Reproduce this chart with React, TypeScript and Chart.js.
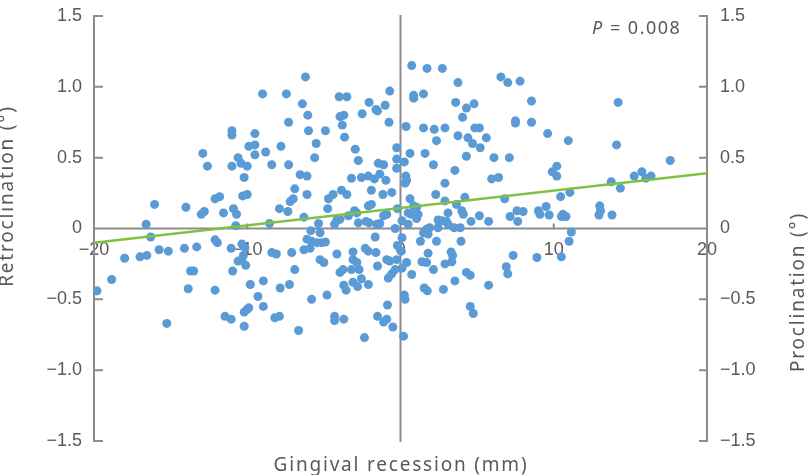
import React, { useEffect, useRef } from "react";
import { Chart, registerables } from "chart.js";

Chart.register(...registerables);

// Gingival recession (mm) of each subject (x)
const recessionMm = [
  -11.0, -11.0, -12.9, -10.6, -12.6, -11.0, -10.4,
  -6.2, -9.0, -7.45, -4.0, -3.5, -0.7, -6.4, -2.05, -1.6, -1.5, -1.0, -6.05, -3.95, -3.7, -2.5, -7.3, -0.75, -3.8, -6.0, -4.9, -9.5, -3.65, -5.5, -9.9, -9.5, -7.8, -0.25, -2.95, -8.8, -9.5, -5.6, -2.75, -8.4, -7.3, -1.45, -1.1, -0.25, -10.0,
  0.73, 1.73, 2.73, 6.55, 7.0, 7.8, 3.75, 0.86, 0.86, 1.5, 3.6, 4.8, 4.3, 8.55, 4.05, 7.5, 7.5, 8.55, 0.36, 1.5, 2.2, 2.9, 4.85, 5.15, 9.6, 3.75, 4.4, 2.35, 4.7, 5.6, 5.2, 0.62, 1.6, 4.3, 6.1, 7.1, 0.25, 2.15,
  14.2, 10.95, 14.1, 17.6, 10.2,
  -10.2, -12.1, -11.8, -10.3, -16.05, -14.0, -13.0, -12.8, -11.55, -10.9, -10.7, -16.6, -10.75, -16.3, -12.1, -11.95, -10.35, -18.0, -17.0, -16.55, -15.75, -15.15, -14.1, -13.3, -11.05, -10.6, -10.35,
  -10.0, -6.55, -6.1, -6.9, -6.1, -7.2, -7.0, -7.9, -7.35, -8.55, -6.3, -5.35, -4.75, -4.7, -4.4, -3.85, -3.5, -3.2, -2.55, -2.1, -1.7, -1.35, -0.95, -0.25, -1.9, -1.15, -0.57, -2.1, -1.9, -3.0, -2.85, -3.4, -3.95, -4.15, -4.3, -2.75, -2.25, -2.05, -1.55, -1.35, -0.9, -1.1, -0.2, -0.35, -5.85, -5.25, -6.1, -5.8, -5.45, -5.15, -4.9, -5.9, -6.3, -10.15, -10.25, -8.4, -8.1, -7.1, -4.15, -3.1, -2.3, -2.1, -1.65, -1.6, -0.9, -0.7, -0.25, -0.2, -5.25, -3.1, -2.85,
  3.55, 0.35, 0.4, 0.3, 2.9, 5.95, 6.4, 2.3, 0.62, 4.2, 2.9, 3.65, 6.8, 0.85, 1.05, 0.5, 0.7, 1.15, 3.1, 4.0, 4.1, 5.15, 4.6, 5.75, 7.15, 7.6, 8.0, 7.65, 9.0, 9.1, 9.5, 9.7, 1.05, 0.1, 2.45, 2.7, 3.0, 3.1, 1.9, 1.7, 1.5, 1.8, 2.45, 3.5, 3.9, 0.1, 1.3, 2.35, 3.95, 0.5, 1.8, 3.3, 3.4, 7.35, 8.9, 0.05, 1.4, 1.7, 0.4, 2.9, 3.35,
  10.2, 9.9, 13.75, 14.35, 15.25, 15.75, 16.0, 16.35, 11.05, 10.45, 13.0, 13.05, 12.95, 13.8, 10.6, 10.8, 10.5, 11.15, 11.0, 10.5,
  -19.8, -18.85, -13.7, -13.5, -13.85, -12.1, -15.25, -11.45, -11.05, -10.95, -10.2, -10.2,
  -10.1, -6.9, -9.8, -8.95, -7.85, -7.25, -9.3, -8.95, -10.0, -9.9, -8.2, -7.9, -6.65, -5.8, -4.8, -5.0, -3.95, -3.75, -3.2, -2.7, -3.7, -3.55, -3.1, -2.8, -2.55, -2.1, -4.3, -4.3, -3.7, -2.35, -1.5, -0.8, -0.57, -0.35, -0.85, -1.5, -1.1, -0.9, -0.5,
  0.1, 0.73, 2.15, 1.55, 1.75, 2.8, 3.55, 4.3, 4.55, 5.75, 6.9, 7.0, 0.25, 0.3, 4.55, 4.75, 0.2,
];

// Incisor inclination change (°) of each subject (y)
const inclinationDeg = [
  0.69, 0.66, 0.53, 0.50, 0.44, 0.44, 0.46,
  1.07, 0.95, 0.95, 0.93, 0.93, 0.97, 0.88, 0.89, 0.84, 0.83, 0.87, 0.80, 0.79, 0.80, 0.81, 0.75, 0.75, 0.73, 0.69, 0.69, 0.67, 0.645, 0.60, 0.58, 0.59, 0.58, 0.57, 0.56, 0.54, 0.52, 0.50, 0.48, 0.45, 0.45, 0.46, 0.45, 0.49, 0.44,
  1.15, 1.13, 1.13, 1.07, 1.03, 1.04, 1.03, 0.94, 0.92, 0.95, 0.89, 0.88, 0.85, 0.90, 0.785, 0.76, 0.745, 0.75, 0.72, 0.71, 0.70, 0.71, 0.71, 0.71, 0.67, 0.655, 0.64, 0.62, 0.60, 0.64, 0.57, 0.53, 0.53, 0.51, 0.50, 0.50, 0.47, 0.45,
  0.89, 0.62, 0.59, 0.48, 0.44,
  0.36, 0.21, 0.225, 0.23, 0.17, 0.15, 0.10, 0.12, 0.11, 0.14, 0.10, 0.03, 0.02, -0.06, -0.08, -0.10, -0.11, -0.21, -0.20, -0.19, -0.15, -0.16, -0.14, -0.13, -0.14, -0.23, -0.22,
  0.24, 0.38, 0.37, 0.28, 0.24, 0.19, 0.21, 0.14, 0.12, 0.035, 0.08, 0.035, 0.14, 0.21, 0.24, 0.27, 0.24, 0.355, 0.36, 0.37, 0.35, 0.385, 0.34, 0.425, 0.27, 0.24, 0.255, 0.16, 0.17, 0.125, 0.11, 0.09, 0.065, 0.06, 0.03, 0.04, 0.05, 0.04, 0.03, 0.035, 0.10, 0.09, 0.14, 0.0, -0.015, -0.03, -0.075, -0.09, -0.10, -0.10, -0.095, -0.14, -0.15, -0.135, -0.19, -0.17, -0.18, -0.17, -0.18, -0.165, -0.14, -0.16, -0.06, -0.17, -0.22, -0.23, -0.22, -0.12, -0.22, -0.22, -0.24,
  0.41, 0.37, 0.34, 0.32, 0.32, 0.35, 0.36, 0.24, 0.21, 0.22, 0.195, 0.17, 0.21, 0.16, 0.15, 0.11, 0.10, 0.10, 0.11, 0.125, 0.10, 0.09, 0.05, 0.05, 0.085, 0.125, 0.12, 0.05, 0.125, 0.10, 0.155, 0.095, 0.07, 0.055, 0.06, 0.055, 0.05, 0.03, 0.005, -0.005, -0.03, -0.04, 0.005, 0.005, 0.005, -0.065, -0.09, -0.09, -0.09, 0.03, -0.175, -0.165, -0.19, -0.19, -0.205, -0.16, -0.235, -0.24, -0.24, -0.25, -0.235,
  0.37, 0.40, 0.33, 0.285, 0.37, 0.40, 0.355, 0.37, 0.255, 0.225, 0.16, 0.125, 0.095, 0.095, 0.10, 0.085, 0.085, -0.025, -0.09, -0.20,
  -0.44, -0.36, -0.30, -0.30, -0.425, -0.435, -0.67, -0.62, -0.64, -0.30, -0.59, -0.69,
  -0.26, -0.29, -0.395, -0.37, -0.42, -0.395, -0.48, -0.55, -0.57, -0.56, -0.63, -0.62, -0.72, -0.50, -0.47, -0.24, -0.31, -0.29, -0.29, -0.29, -0.40, -0.435, -0.38, -0.41, -0.355, -0.395, -0.62, -0.65, -0.64, -0.77, -0.265, -0.35, -0.32, -0.29, -0.54, -0.62, -0.66, -0.64, -0.695,
  -0.28, -0.325, -0.29, -0.42, -0.44, -0.43, -0.37, -0.31, -0.33, -0.40, -0.27, -0.32, -0.47, -0.50, -0.55, -0.60, -0.76,
];

// Linear trend line end points
const trendX = [-20, 20];
const trendY = [-0.1, 0.39];

const xTicks = [-20, -10, 0, 10, 20];
const yTicks = [-1.5, -1.0, -0.5, 0, 0.5, 1.0, 1.5];

const xTitle = "Gingival recession (mm)";
const yLeftTitle = "Retroclination (°)";
const yRightTitle = "Proclination (°)";
const pLabel = "P";
const pText = " = 0.008";

const AXIS = "#8c8c8c";
const TEXT = "#595959";
const POINT = "#5b9bd5";
const TREND = "#7dc242";
const TICK_FONT = { family: "'Liberation Sans', Arial, sans-serif", size: 18 };
const TITLE_FONT = "'Noto Sans', sans-serif";

function fmt(v: number): string {
  if (v === 0) return "0";
  const s = Number.isInteger(v) && Math.abs(v) >= 10 ? String(Math.abs(v)) : Math.abs(v).toFixed(1);
  return (v < 0 ? "\u2212" : "") + s;
}

function noVerticalPadding(s: any) {
  s.paddingTop = 0;
  s.paddingBottom = 0;
}

export default function App() {
  const ref = useRef<HTMLCanvasElement | null>(null);

  useEffect(() => {
    const canvas = ref.current;
    if (!canvas) return;
    const points = recessionMm.map((x, i) => ({ x, y: inclinationDeg[i] }));
    const trend = trendX.map((x, i) => ({ x, y: trendY[i] }));

    const decor = {
      id: "decor",
      beforeDatasetsDraw(chart: any) {
        const { ctx, chartArea } = chart;
        const { left, right, top, bottom } = chartArea;
        const xs = chart.scales.x;
        const ys = chart.scales.y;
        const x0 = xs.getPixelForValue(0);
        const y0 = ys.getPixelForValue(0);
        ctx.save();
        ctx.strokeStyle = AXIS;
        ctx.lineWidth = 2;
        ctx.beginPath();
        ctx.moveTo(left, top - 1);
        ctx.lineTo(left, bottom + 1);
        ctx.moveTo(right, top - 1);
        ctx.lineTo(right, bottom + 1);
        ctx.moveTo(x0, top - 1);
        ctx.lineTo(x0, bottom + 1);
        ctx.moveTo(left, y0);
        ctx.lineTo(right, y0);
        yTicks.forEach((v) => {
          const py = ys.getPixelForValue(v);
          ctx.moveTo(left, py);
          ctx.lineTo(left + 9, py);
          ctx.moveTo(right - 8, py);
          ctx.lineTo(right, py);
        });
        xTicks.forEach((v) => {
          const px = xs.getPixelForValue(v);
          ctx.moveTo(px, y0);
          ctx.lineTo(px, y0 - 5);
        });
        ctx.stroke();
        ctx.restore();
      },
      afterDraw(chart: any) {
        const { ctx } = chart;
        ctx.save();
        ctx.fillStyle = TEXT;
        ctx.font = `19px ${TITLE_FONT}`;
        (ctx as any).letterSpacing = "1.8px";
        ctx.textAlign = "center";
        ctx.textBaseline = "alphabetic";
        ctx.fillText(xTitle, 401, 471);

        ctx.save();
        ctx.translate(13, 196);
        ctx.rotate(-Math.PI / 2);
        ctx.fillText(yLeftTitle, 0, 0);
        ctx.restore();

        ctx.save();
        ctx.translate(804, 292);
        ctx.rotate(-Math.PI / 2);
        ctx.fillText(yRightTitle, 0, 0);
        ctx.restore();

        (ctx as any).letterSpacing = "1.5px";
        ctx.textAlign = "left";
        ctx.font = `italic 18px ${TITLE_FONT}`;
        ctx.fillText(pLabel, 592, 34);
        const w = ctx.measureText(pLabel).width;
        ctx.font = `18px ${TITLE_FONT}`;
        ctx.fillText(pText, 592 + w, 34);
        ctx.restore();
      },
    };

    const chart = new Chart(canvas, {
      type: "scatter",
      data: {
        datasets: [
          {
            type: "line",
            data: trend,
            borderColor: TREND,
            borderWidth: 2.5,
            pointRadius: 0,
            fill: false,
            order: 0,
          },
          {
            data: points,
            backgroundColor: POINT,
            borderWidth: 0,
            pointRadius: 4.5,
            pointHoverRadius: 4.5,
            order: 1,
          },
        ],
      } as any,
      options: {
        animation: false,
        responsive: false,
        maintainAspectRatio: false,
        events: [],
        layout: { padding: { left: 0, right: 0, top: 16, bottom: 34 } },
        plugins: { legend: { display: false }, tooltip: { enabled: false }, title: { display: false } },
        scales: {
          x: {
            type: "linear",
            min: -20,
            max: 20,
            position: { y: 0 } as any,
            afterBuildTicks: (s: any) => {
              s.ticks = xTicks.map((v) => ({ value: v }));
            },
            afterFit: (s: any) => {
              s.paddingLeft = 0;
              s.paddingRight = 0;
            },
            grid: { display: false, drawTicks: false },
            border: { display: false },
            ticks: { color: TEXT, font: TICK_FONT, padding: 11, maxRotation: 0, callback: (v: any) => fmt(Number(v)) },
          },
          y: {
            type: "linear",
            min: -1.5,
            max: 1.5,
            position: "left",
            afterBuildTicks: (s: any) => {
              s.ticks = yTicks.map((v) => ({ value: v }));
            },
            afterFit: (s: any) => {
              s.width = 94;
              noVerticalPadding(s);
            },
            grid: { display: false, drawTicks: false },
            border: { display: false },
            ticks: { color: TEXT, font: TICK_FONT, padding: 12, callback: (v: any) => fmt(Number(v)) },
          },
          y2: {
            type: "linear",
            min: -1.5,
            max: 1.5,
            position: "right",
            afterBuildTicks: (s: any) => {
              s.ticks = yTicks.map((v) => ({ value: v }));
            },
            afterFit: (s: any) => {
              s.width = 103;
              noVerticalPadding(s);
            },
            grid: { display: false, drawTicks: false },
            border: { display: false },
            ticks: { color: TEXT, font: TICK_FONT, padding: 13, callback: (v: any) => fmt(Number(v)) },
          },
        },
      } as any,
      plugins: [decor],
    });
    return () => chart.destroy();
  }, []);

  return (
    <div style={{ position: "fixed", left: 0, top: 0, width: 810, height: 475, background: "#fff" }}>
      <canvas ref={ref} width={810} height={475} style={{ width: 810, height: 475, display: "block" }} />
    </div>
  );
}
